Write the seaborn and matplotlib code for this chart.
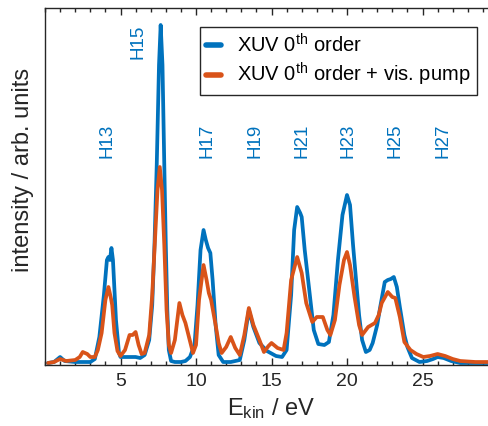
import matplotlib
matplotlib.use('Agg')
import pandas as pd
import seaborn as sns
from matplotlib import pyplot as plt
from matplotlib.ticker import MultipleLocator

# XUV 0th order (blue)
energy_xuv = [0.2, 0.6, 1.0, 1.3, 2.0, 2.5, 3.0, 3.3, 3.6, 3.9, 4.1, 4.2, 4.3, 4.4, 4.5, 4.7, 4.9,
              5.0, 5.5, 6.0, 6.3, 6.6, 6.9, 7.1, 7.25, 7.4, 7.55, 7.66, 7.78, 7.9, 8.0, 8.1, 8.2,
              8.35, 8.6, 9.0, 9.3, 9.6, 9.9, 10.1, 10.3, 10.5, 10.65, 10.8, 10.95, 11.1, 11.3,
              11.5, 11.8, 12.3, 12.9, 13.2, 13.5, 13.8, 14.2, 14.7, 15.3, 15.7, 16.0, 16.3, 16.5,
              16.7, 16.9, 17.0, 17.2, 17.5, 17.8, 18.1, 18.5, 18.8, 19.1, 19.4, 19.7, 20.0, 20.2,
              20.4, 20.6, 20.8, 21.0, 21.25, 21.5, 21.7, 22.0, 22.2, 22.5, 22.7, 22.9, 23.1, 23.3,
              23.5, 23.8, 24.0, 24.3, 24.8, 25.3, 25.7, 26.0, 26.4, 26.9, 27.5, 28.5, 29.5]
intensity_xuv = [2, 3, 8, 4, 3, 3, 3, 6, 28, 70, 105, 108, 105, 117, 105, 45, 12,
                 8, 8, 8, 7, 10, 25, 60, 120, 200, 300, 340, 300, 200, 120, 55, 15,
                 4, 3, 3, 4, 8, 20, 60, 115, 135, 125, 117, 112, 85, 40,
                 10, 3, 3, 5, 25, 55, 38, 22, 14, 9, 8, 15, 70, 135,
                 158, 152, 148, 115, 75, 35, 21, 20, 23, 50, 105, 150, 170, 160,
                 120, 85, 50, 25, 13, 15, 22, 40, 58, 83, 85, 86, 88, 78,
                 58, 30, 18, 7, 3, 4, 6, 8, 7, 4, 2, 2, 2]

# XUV 0th order + vis. pump (orange)
energy_pump = [0.2, 0.6, 1.0, 1.4, 2.0, 2.3, 2.5, 2.8, 3.0, 3.3, 3.5, 3.75, 4.0, 4.2, 4.35, 4.45,
               4.6, 4.8, 5.0, 5.3, 5.6, 5.8, 6.0, 6.2, 6.4, 6.6, 6.9, 7.1, 7.3, 7.45, 7.6, 7.75,
               7.9, 8.05, 8.2, 8.35, 8.6, 8.9, 9.1, 9.3, 9.5, 9.8, 10.0, 10.2, 10.5, 10.7, 10.85,
               11.0, 11.3, 11.5, 11.7, 12.0, 12.3, 12.6, 12.9, 13.2, 13.5, 13.8, 14.2, 14.5, 14.8,
               15.0, 15.4, 15.8, 16.0, 16.3, 16.7, 17.0, 17.3, 17.7, 18.0, 18.4, 18.7, 18.9, 19.2,
               19.5, 19.8, 20.0, 20.2, 20.5, 20.8, 21.0, 21.4, 21.85, 22.1, 22.3, 22.7, 23.0, 23.2,
               23.5, 23.8, 24.2, 24.6, 25.05, 25.5, 26.0, 26.5, 27.0, 27.5, 28.5, 29.5]
intensity_pump = [2, 3, 6, 4, 5, 8, 13, 11, 8, 8, 15, 32, 65, 78, 68, 60,
                  32, 14, 9, 15, 30, 30, 33, 20, 11, 12, 30, 70, 130, 175, 198, 175,
                  120, 55, 20, 12, 25, 62, 50, 42, 30, 12, 20, 65, 100, 85, 72,
                  65, 40, 22, 12, 18, 28, 17, 10, 30, 57, 40, 25, 13, 19,
                  22, 17, 15, 32, 85, 108, 92, 62, 43, 48, 48, 35, 30, 45,
                  80, 105, 113, 100, 68, 40, 30, 38, 42, 50, 62, 73, 68, 67,
                  48, 23, 15, 11, 8, 9, 11, 9, 6, 4, 3, 3]

harmonics = ['H13', 'H15', 'H17', 'H19', 'H21', 'H23', 'H25', 'H27']
harmonic_pos = [4.09, 6.16, 10.73, 13.91, 17.0, 20.07, 23.18, 26.35]
harmonic_y = [224, 323, 224, 224, 224, 224, 224, 224]

blue = '#0072BD'
orange = '#D95319'
dark = '#262626'

sns.set_theme(style='white')
plt.rcParams['font.family'] = ['Liberation Sans', 'DejaVu Sans']
plt.rcParams['mathtext.fontset'] = 'custom'
plt.rcParams['mathtext.rm'] = 'Liberation Sans'
plt.rcParams['mathtext.it'] = 'Liberation Sans:italic'

lbl_xuv = r'XUV 0$^{\mathrm{th}}$ order'
lbl_pump = r'XUV 0$^{\mathrm{th}}$ order + vis. pump'

df = pd.concat([
    pd.DataFrame({'E': energy_xuv, 'I': intensity_xuv, 'series': lbl_xuv}),
    pd.DataFrame({'E': energy_pump, 'I': intensity_pump, 'series': lbl_pump}),
], ignore_index=True)

fig = plt.figure(figsize=(4.88, 4.26), dpi=100)
# axes run a little past the right edge, as in the original
ax = fig.add_axes([45 / 488, 61 / 426, 447 / 488, 357 / 426])

sns.lineplot(data=df, x='E', y='I', hue='series', palette=[blue, orange],
             estimator=None, sort=False, linewidth=2.7, ax=ax)

for name, xpos, ypos in zip(harmonics, harmonic_pos, harmonic_y):
    ax.text(xpos, ypos, name, rotation=90, ha='center', va='center',
            color=blue, fontsize=13.5)

ax.set_xlim(0, 447 / 15.1)
ax.set_ylim(0, 357)
ax.set_yticks([])
ax.xaxis.set_major_locator(MultipleLocator(5))
ax.xaxis.set_minor_locator(MultipleLocator(1))
ax.tick_params(axis='x', which='both', direction='in', top=True, bottom=True,
               colors=dark, labelsize=14, width=1)
ax.tick_params(axis='x', which='major', length=5, pad=6)
ax.tick_params(axis='x', which='minor', length=3)
ax.set_xticks([5, 10, 15, 20, 25])
for s in ax.spines.values():
    s.set_color(dark)
    s.set_linewidth(1)

ax.set_xlabel(r'E$_{\mathrm{kin}}$ / eV', fontsize=17, color=dark)
ax.set_ylabel('intensity / arb. units', fontsize=17, color=dark)
ax.yaxis.set_label_coords(-0.025, 0.545)
ax.xaxis.set_label_coords(0.505, -0.088)

leg = ax.legend(loc='upper left', bbox_to_anchor=(200 / 488, 1 - 27 / 426),
                bbox_transform=fig.transFigure, fontsize=14.5, handlelength=0.75,
                handletextpad=0.8, borderpad=0.3, labelspacing=0.25,
                frameon=True, fancybox=False, framealpha=1, borderaxespad=0)
leg.get_frame().set_edgecolor(dark)
leg.get_frame().set_linewidth(1)
for line in leg.get_lines():
    line.set_linewidth(4)
for t in leg.get_texts():
    t.set_color('black')

fig.savefig('out.png', dpi=100)
